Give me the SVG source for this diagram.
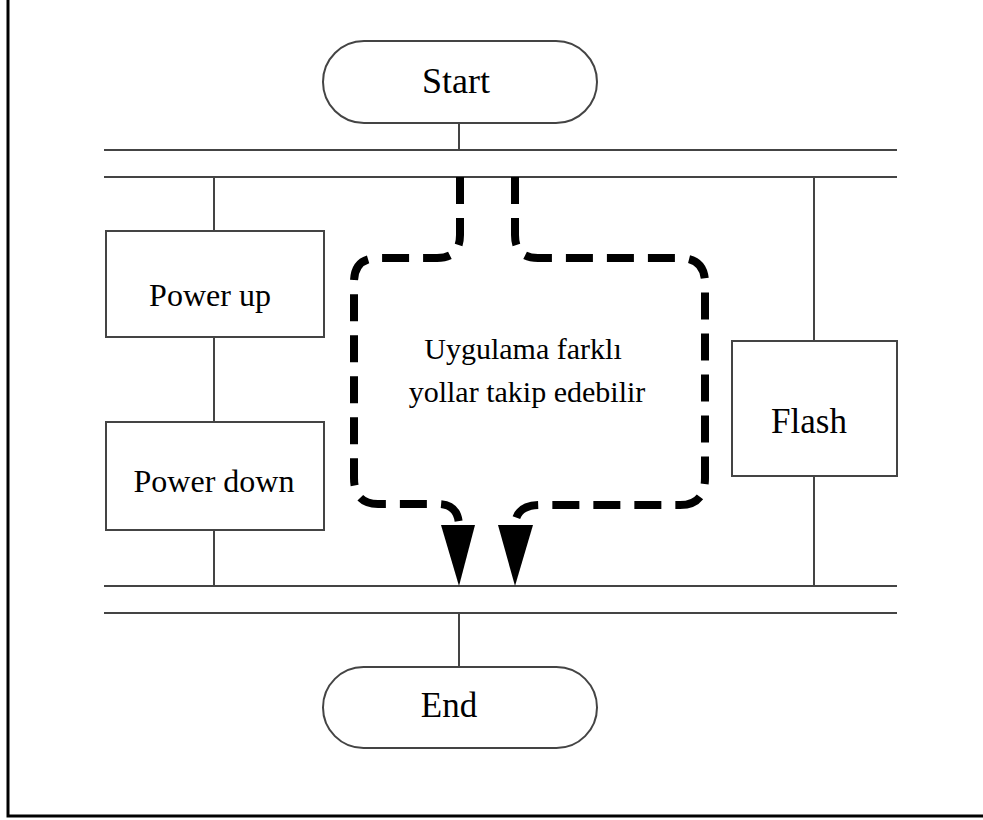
<svg xmlns="http://www.w3.org/2000/svg" width="983" height="820" viewBox="0 0 983 820">
<style>
.box{fill:#fff;stroke:#444;stroke-width:2}
.ln{stroke:#444;stroke-width:2;fill:none}
.t{font-family:"Liberation Serif","Times New Roman",serif;fill:#000;text-anchor:middle}
.dash{fill:none;stroke:#000;stroke-width:8;stroke-dasharray:27 14}
.head{fill:#000}
</style>
<rect width="983" height="820" fill="#fff"/>
<path d="M8,0 L8,816 L983,816" fill="none" stroke="#000" stroke-width="3"/>
<g id="connectors">
<line class="ln" x1="104" y1="150" x2="897" y2="150"/>
<line class="ln" x1="104" y1="177" x2="897" y2="177"/>
<line class="ln" x1="104" y1="586" x2="897" y2="586"/>
<line class="ln" x1="104" y1="613" x2="897" y2="613"/>
<line class="ln" x1="459" y1="123" x2="459" y2="150"/>
<line class="ln" x1="459" y1="613" x2="459" y2="667"/>
<line class="ln" x1="214" y1="177" x2="214" y2="231"/>
<line class="ln" x1="214" y1="337" x2="214" y2="422"/>
<line class="ln" x1="214" y1="530" x2="214" y2="586"/>
<line class="ln" x1="814" y1="177" x2="814" y2="341"/>
<line class="ln" x1="814" y1="476" x2="814" y2="586"/>
<path class="dash" d="M460,177 L460,235 Q460,258 437,258 L378,258 Q354,258 354,282 L354,478 Q354,504 378,504 L438,504 Q458,504 459,525"/>
<path class="dash" d="M515,177 L515,235 Q515,258 538,258 L680,258 Q705,258 705,283 L705,478 Q705,505 680,505 L540,505 Q516,505 515,525"/>
<polygon class="head" points="441,525 475,525 459,586"/>
<polygon class="head" points="498,525 533,525 515,586"/>
</g>
<g id="start">
<rect class="box" x="323" y="41" width="274" height="82" rx="41"/>
<text class="t" x="456" y="93" font-size="36">Start</text>
</g>
<g id="power-up">
<rect class="box" x="106" y="231" width="218" height="106"/>
<text class="t" x="210" y="306" font-size="32">Power up</text>
</g>
<g id="power-down">
<rect class="box" x="106" y="422" width="218" height="108"/>
<text class="t" x="214" y="492" font-size="32">Power down</text>
</g>
<g id="flash">
<rect class="box" x="732" y="341" width="165" height="135"/>
<text class="t" x="809" y="433" font-size="35">Flash</text>
</g>
<g id="note">
<text class="t" x="523" y="359" font-size="30">Uygulama farklı</text>
<text class="t" x="527" y="402" font-size="30">yollar takip edebilir</text>
</g>
<g id="end">
<rect class="box" x="323" y="667" width="274" height="81" rx="40.5"/>
<text class="t" x="449" y="717" font-size="35">End</text>
</g>
</svg>
